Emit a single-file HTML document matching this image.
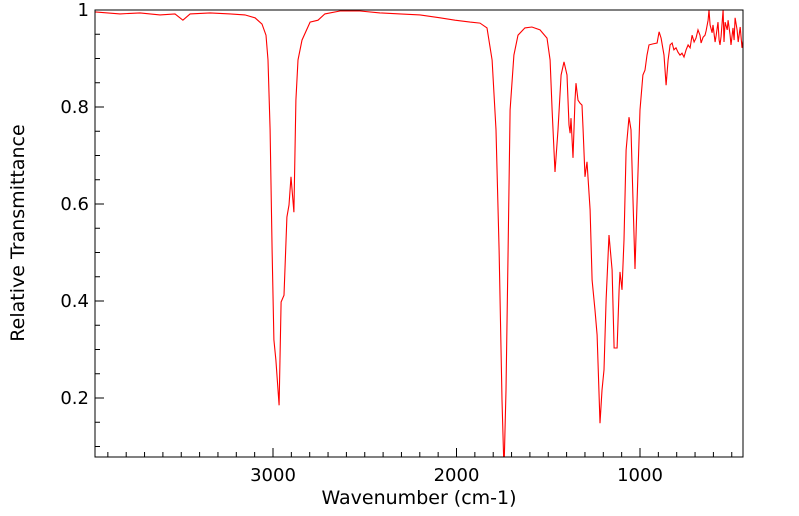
<!DOCTYPE html>
<html><head><meta charset="utf-8"><style>
html,body{margin:0;padding:0;background:#fff;}
svg{display:block;font-family:"DejaVu Sans","Liberation Sans",sans-serif;}
</style></head><body>
<svg id="chart" width="799" height="516" viewBox="0 0 799 516">
<defs><clipPath id="clip"><rect x="95" y="10" width="648" height="447"/></clipPath></defs>
<g id="ticks"></g>
<path id="spectrum" fill="none" stroke="#ff0000" stroke-width="1.1" clip-path="url(#clip)"/>
<rect x="95" y="10" width="648" height="447" fill="none" stroke="#000" stroke-width="1"/>
<text x="419" y="504" font-size="19" text-anchor="middle">Wavenumber (cm-1)</text>
<text transform="translate(24,233) rotate(-90)" font-size="19" text-anchor="middle">Relative Transmittance</text>
</svg>
<script>
const wavenumbers=[3970,3834,3725,3616,3534,3491,3452,3343,3234,3153,3098,3060,3038,3027,3016,3005,2995,2984,2967,2956,2940,2924,2913,2902,2886,2875,2864,2842,2798,2755,2717,2635,2526,2417,2308,2199,2090,2008,1926,1872,1834,1806,1785,1768,1752,1741,1730,1719,1708,1687,1665,1627,1589,1545,1507,1490,1479,1463,1447,1430,1414,1398,1387,1381,1376,1365,1354,1349,1338,1327,1316,1310,1300,1289,1272,1261,1245,1234,1218,1207,1196,1185,1169,1152,1141,1125,1114,1109,1098,1087,1076,1060,1049,1038,1027,1016,1000,984,973,962,951,929,907,896,885,869,858,847,836,825,815,804,793,782,771,760,749,738,727,716,705,695,684,673,667,656,646,640,629,624,618,607,602,591,585,575,569,564,558,547,542,536,525,520,509,504,493,487,482,471,465,454,444,438];
const transmittance=[.996,.992,.994,.990,.992,.979,.992,.994,.992,.990,.984,.971,.948,.897,.753,.505,.320,.278,.185,.398,.412,.573,.598,.656,.583,.814,.897,.938,.975,.979,.992,.998,.998,.994,.992,.990,.984,.979,.975,.973,.963,.897,.753,.505,.196,.05,.216,.505,.794,.907,.948,.963,.965,.959,.942,.897,.794,.666,.753,.866,.893,.866,.763,.746,.777,.695,.814,.849,.814,.808,.804,.753,.656,.687,.588,.443,.381,.330,.148,.216,.258,.402,.536,.464,.303,.303,.423,.460,.423,.526,.711,.779,.753,.608,.466,.608,.794,.866,.876,.907,.928,.930,.932,.955,.942,.907,.845,.897,.928,.932,.918,.922,.913,.907,.911,.903,.918,.928,.922,.948,.934,.942,.959,.948,.932,.944,.948,.957,.979,1.0,.969,.953,.969,.934,.948,.975,.938,.928,.946,1.0,.934,.975,.959,.979,.948,.928,.963,.938,.984,.959,.934,.965,.922,.938];
const xMajorTicks=[3000,2000,1000];
const xMinorTicks=[3900,3800,3700,3600,3500,3400,3300,3200,3100,2900,2800,2700,2600,2500,2400,2300,2200,2100,1900,1800,1700,1600,1500,1400,1300,1200,1100,900,800,700,600,500];
const yMajorTicks=[0.2,0.4,0.6,0.8,1];
const yMinorTicks=[0.1,0.15,0.25,0.3,0.35,0.45,0.5,0.55,0.65,0.7,0.75,0.85,0.9,0.95];
const xScale=w=>273+(3000-w)*0.1835;
const yScale=t=>10+(1-t)*485;
const NS="http://www.w3.org/2000/svg";
let d="";
for(let i=0;i<wavenumbers.length;i++){d+=(i?"L":"M")+xScale(wavenumbers[i]).toFixed(1)+","+yScale(transmittance[i]).toFixed(1);}
document.getElementById("spectrum").setAttribute("d",d);
const g=document.getElementById("ticks");
function line(x1,y1,x2,y2,name){const l=document.createElementNS(NS,"line");l.setAttribute("x1",x1);l.setAttribute("y1",y1);l.setAttribute("x2",x2);l.setAttribute("y2",y2);l.setAttribute("stroke","#000");


g.appendChild(l);}
function label(x,y,s,anchor,name){const t=document.createElementNS(NS,"text");t.setAttribute("x",x);t.setAttribute("y",y);t.setAttribute("font-size","18");t.setAttribute("text-anchor",anchor);t.textContent=s;


g.appendChild(t);}
xMajorTicks.forEach(v=>{const x=xScale(v);line(x,457,x,448,"x-major-tick");label(x,481,String(v),"middle","x-tick-label");});
xMinorTicks.forEach(v=>{const x=xScale(v);if(x>95&&x<743)line(x,457,x,452,"x-minor-tick");});
yMajorTicks.forEach(v=>{const y=yScale(v);line(95,y,104,y,"y-major-tick");label(89,y+6,v===1?"1":v.toFixed(1),"end","y-tick-label");});
yMinorTicks.forEach(v=>{const y=yScale(v);line(95,y,100,y,"y-minor-tick");});
</script>
</body></html>
